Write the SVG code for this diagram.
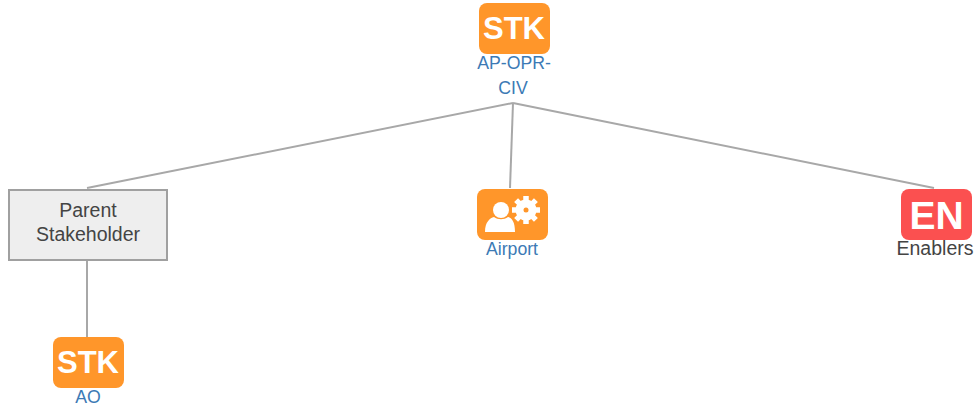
<svg xmlns="http://www.w3.org/2000/svg" width="979" height="412" viewBox="0 0 979 412">
<style>
text{font-family:"Liberation Sans",Arial,sans-serif}
.lb{font-size:17.700px;text-anchor:middle;fill:#3c7ab5}
.dk{font-size:19.500px;text-anchor:middle;fill:#444}
.ic{font-size:31px;font-weight:bold;fill:#fff;text-anchor:middle}
.or{fill:#ff962a}
.rd{fill:#fb5050}
.cn{stroke:#a8a8a8;stroke-width:2;fill:none}
</style>
<rect width="979" height="412" fill="#fff"/>
<g id="connectors">
<line class="cn" x1="513" y1="103" x2="87" y2="188"/>
<line class="cn" x1="513" y1="103" x2="510" y2="188"/>
<line class="cn" x1="513" y1="103" x2="934" y2="188"/>
<line class="cn" x1="87" y1="260" x2="87" y2="337"/>
</g>
<g id="node-ap-opr-civ">
<rect class="or" x="479" y="3" width="71" height="51" rx="8"/>
<text class="ic" x="514" y="39">STK</text>
<text class="lb" x="514" y="69">AP-OPR-</text>
<text class="lb" x="513" y="94">CIV</text>
</g>
<g id="node-parent-stakeholder">
<rect x="9" y="190" width="158" height="70" fill="#eee" stroke="#a0a0a0" stroke-width="2"/>
<text class="dk" x="88" y="217">Parent</text>
<text class="dk" x="88" y="241">Stakeholder</text>
</g>
<g id="node-airport">
<rect class="or" x="477" y="189" width="71" height="51" rx="8"/>
<circle cx="501" cy="210" r="8" fill="#fff"/>
<path d="M485 232c0-10 5-14 9-15 4 3 10 3 14 0 4 1 7 5 7 15z" fill="#fff"/>
<circle cx="526" cy="210" r="10.500" fill="#fff"/>
<path d="M526 196v28M512 210h28M516.100 200.100l19.800 19.800M535.900 200.100l-19.800 19.800" stroke="#fff" stroke-width="5.500" fill="none"/>
<circle cx="526" cy="210" r="2.500" class="or"/>
<text class="lb" x="512" y="255">Airport</text>
</g>
<g id="node-enablers">
<rect class="rd" x="901" y="189" width="71" height="51" rx="8"/>
<text x="936.500" y="229" font-size="39" font-weight="bold" fill="#fff" text-anchor="middle">EN</text>
<text class="dk" x="935" y="255">Enablers</text>
</g>
<g id="node-ao">
<rect class="or" x="53" y="337" width="71" height="51" rx="8"/>
<text class="ic" x="88" y="373">STK</text>
<text class="lb" x="88" y="403">AO</text>
</g>
</svg>
